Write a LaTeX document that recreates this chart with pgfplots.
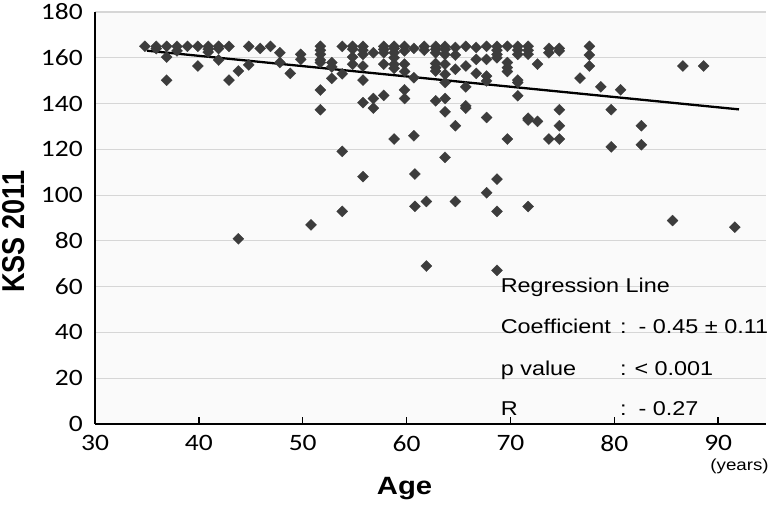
\documentclass[border=0pt]{standalone}
\usepackage{fontspec}
\setmainfont{Liberation Sans}[FakeStretch=1.17]
\newfontfamily\tickfont{Carlito}[FakeStretch=1.17]
\newfontfamily\plainfont{Liberation Sans}
\usepackage{pgfplots}
\usepackage{pgfplotstable}
\pgfplotsset{compat=1.18}

\definecolor{markgray}{HTML}{3C3C3C}
\definecolor{gridgray}{HTML}{D6D6D6}
\definecolor{plotbg}{HTML}{FAFAFA}

% age (years) vs KSS 2011 score
\pgfplotstableread{
age kss
34.8 165
35.9 165
35.9 164
36.9 165
36.9 160.3
36.9 150.2
37.9 165
37.9 163
38.9 165
39.9 165
39.9 156.4
40.9 165
40.9 163.8
40.9 162.5
41.9 165
41.9 164
41.9 159
42.9 165
42.9 150.2
43.8 154.2
43.8 80.9
44.8 165
44.8 156.9
45.9 164.1
46.9 165
47.8 162.2
47.8 157.9
48.8 153.2
49.8 161.5
49.8 159.3
50.8 87
51.7 165
51.7 163.3
51.7 161.5
51.7 159
51.7 157.9
51.7 145.9
51.7 137.3
52.8 157.9
52.8 156
52.8 151
53.8 165
53.8 153
53.8 119.1
53.8 92.9
54.8 165
54.8 163.7
54.8 160.3
54.8 157.2
55.8 165
55.8 163.3
55.8 161.5
55.8 156.4
55.8 150.2
55.8 140.4
55.8 108.1
56.8 162.2
56.8 142.2
56.8 138
57.8 165
57.8 163.7
57.8 162.2
57.8 157.2
57.8 143.6
58.8 165
58.8 164
58.8 162.2
58.8 160
58.8 157.2
58.8 155.4
58.8 124.5
59.8 165
59.8 163
59.8 157.2
59.8 154
59.8 146
59.8 142.2
60.7 164.1
60.7 151.3
60.7 125.9
60.8 109.2
60.8 95.1
61.7 165
61.7 163.3
61.9 97.2
61.9 69
62.8 165
62.8 163.7
62.8 162.2
62.8 157.5
62.8 155.7
62.8 154.2
62.8 141.2
63.7 165
63.7 163.7
63.7 161.5
63.7 157.2
63.7 152.8
63.7 149.2
63.7 142.2
63.7 136.4
63.7 116.5
64.7 164.5
64.7 161.2
64.7 155
64.7 130.3
64.7 97.2
65.7 165
65.7 156.4
65.7 147.3
65.7 139
65.7 138
66.7 164.5
66.7 159.3
66.7 153.2
67.7 165
67.7 159.3
67.7 152
67.7 149.9
67.7 133.9
67.7 101
68.7 165
68.7 163.3
68.7 161.5
68.7 160
68.7 107
68.7 92.9
68.7 67.1
69.7 165
69.7 157.9
69.7 155.7
69.7 154
69.7 124.5
70.7 165
70.7 163.3
70.7 161.5
70.7 150.2
70.7 149.2
70.7 143.4
71.7 165
71.7 163.3
71.7 161.5
71.7 133.6
71.7 132.8
71.7 95
72.6 157.2
72.6 132.2
73.7 164.1
73.7 162.2
73.7 124.5
74.7 164.1
74.7 163
74.7 137.3
74.7 130.3
74.7 124.5
76.7 151.1
77.6 165
77.6 161.2
77.6 156.4
78.7 147.3
79.7 137.3
79.7 121.1
80.6 146
82.6 130.3
82.6 122
85.6 88.9
86.6 156.4
88.6 156.4
91.6 86
}\ksstable

\begin{document}
\begin{tikzpicture}
\begin{axis}[
  name=ax,
  scale only axis,
  width=671pt, height=412pt,
  xmin=30, xmax=94.6,
  ymin=0, ymax=180,
  xtick={30,40,...,90},
  ytick={0,20,...,180},
  axis lines*=left,
  axis line style={black, line width=1.5pt},
  ymajorgrids,
  major grid style={gridgray, line width=1.2pt},
  tick align=inside,
  xtick style={black, line width=1.5pt},
  major tick length=7pt,
  ytick style={draw=none},
  axis background/.style={fill=plotbg},
  /pgf/number format/assume math mode=true,
  ticklabel style={font=\tickfont\fontsize{23.5}{24}\selectfont, inner sep=0pt},
  xticklabel style={anchor=north, yshift=-11pt},
  yticklabel style={anchor=east, xshift=-12pt},
  clip=false,
]
\addplot[only marks, mark=square*, mark size=3.9pt,
  mark options={rotate=45, fill=markgray, draw=markgray, line width=0.3pt}]
  table[x=age, y=kss] {\ksstable};

% regression line
\addplot[black, line width=2.3pt] coordinates {(35,163.1) (92,137.45)};

\node[anchor=base west, font=\fontsize{20}{20}\selectfont] at (axis cs:68.73,57.5) {Regression Line};
\node[anchor=base west, font=\fontsize{20}{20}\selectfont] at (axis cs:68.73,39.65) {Coefficient};
\node[anchor=base west, font=\fontsize{20}{20}\selectfont] at (axis cs:68.73,21.35) {p~value};
\node[anchor=base west, font=\fontsize{20}{20}\selectfont] at (axis cs:68.73,3.9) {R};
\node[anchor=base, font=\fontsize{20}{20}\selectfont] at (axis cs:80.87,39.65) {:};
\node[anchor=base, font=\fontsize{20}{20}\selectfont] at (axis cs:80.87,21.35) {:};
\node[anchor=base, font=\fontsize{20}{20}\selectfont] at (axis cs:80.87,3.9) {:};
\node[anchor=base west, font=\fontsize{20}{20}\selectfont] at (axis cs:82.0,39.65) {- 0.45 ± 0.11};
\node[anchor=base west, font=\fontsize{20}{20}\selectfont] at (axis cs:81.6,21.35) {< 0.001};
\node[anchor=base west, font=\fontsize{20}{20}\selectfont] at (axis cs:82.0,3.9) {- 0.27};

\node[anchor=base, font=\bfseries\fontsize{25}{26}\selectfont] at (axis cs:59.8,-30.9) {Age};
\node[anchor=east, font=\fontsize{16}{17}\selectfont] at (axis cs:95.2,-18.3) {(years)};
\node[rotate=90, yscale=1.17, font=\plainfont\bfseries\fontsize{27}{28}\selectfont] at (axis cs:22.2,84) {KSS 2011};
\end{axis}
\pgfresetboundingbox
\path[use as bounding box] ([shift={(-95pt,-81pt)}]ax.south west) rectangle ([shift={(8pt,12pt)}]ax.north east);
\end{tikzpicture}
\end{document}
